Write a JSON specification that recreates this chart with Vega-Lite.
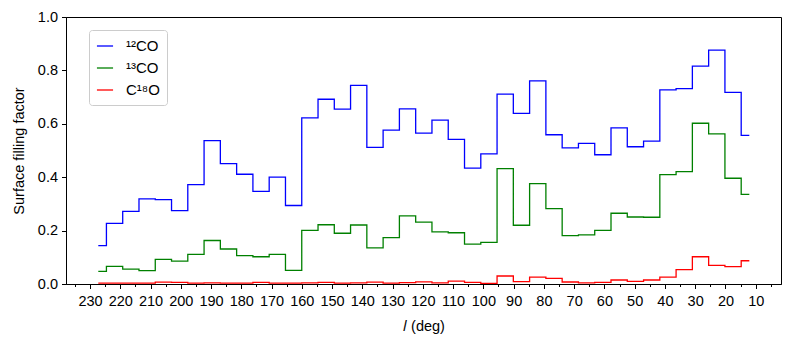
{
  "$schema": "https://vega.github.io/schema/vega-lite/v6.json",
  "width": 715,
  "height": 267,
  "autosize": {"type": "none"},
  "padding": {"left": 66, "top": 17, "right": 12, "bottom": 59},
  "config": {
    "font": "Liberation Sans",
    "view": {"stroke": "black", "strokeWidth": 1},
    "axis": {
      "labelFontSize": 14.5, "titleFontSize": 14.5, "labelColor": "black", "titleColor": "black",
      "domainColor": "black", "tickColor": "black", "titleFontWeight": "normal", "grid": false,
      "labelFont": "Liberation Sans", "titleFont": "Liberation Sans"
    },
    "legend": {"labelFont": "Liberation Sans"}
  },
  "data": {"values": [
    {"l": 227.26, "v": 0.144, "s": "¹²CO"}, {"l": 221.88, "v": 0.227, "s": "¹²CO"}, {"l": 216.50, "v": 0.272, "s": "¹²CO"}, {"l": 211.12, "v": 0.319, "s": "¹²CO"},
    {"l": 205.74, "v": 0.316, "s": "¹²CO"}, {"l": 200.37, "v": 0.275, "s": "¹²CO"}, {"l": 194.99, "v": 0.372, "s": "¹²CO"}, {"l": 189.61, "v": 0.537, "s": "¹²CO"},
    {"l": 184.23, "v": 0.451, "s": "¹²CO"}, {"l": 178.85, "v": 0.411, "s": "¹²CO"}, {"l": 173.47, "v": 0.347, "s": "¹²CO"}, {"l": 168.09, "v": 0.400, "s": "¹²CO"},
    {"l": 162.71, "v": 0.294, "s": "¹²CO"}, {"l": 157.33, "v": 0.622, "s": "¹²CO"}, {"l": 151.95, "v": 0.692, "s": "¹²CO"}, {"l": 146.58, "v": 0.655, "s": "¹²CO"},
    {"l": 141.20, "v": 0.744, "s": "¹²CO"}, {"l": 135.82, "v": 0.512, "s": "¹²CO"}, {"l": 130.44, "v": 0.576, "s": "¹²CO"}, {"l": 125.06, "v": 0.656, "s": "¹²CO"},
    {"l": 119.68, "v": 0.565, "s": "¹²CO"}, {"l": 114.30, "v": 0.614, "s": "¹²CO"}, {"l": 108.92, "v": 0.542, "s": "¹²CO"}, {"l": 103.54, "v": 0.434, "s": "¹²CO"},
    {"l": 98.16, "v": 0.487, "s": "¹²CO"}, {"l": 92.79, "v": 0.711, "s": "¹²CO"}, {"l": 87.41, "v": 0.639, "s": "¹²CO"}, {"l": 82.03, "v": 0.761, "s": "¹²CO"},
    {"l": 76.65, "v": 0.559, "s": "¹²CO"}, {"l": 71.27, "v": 0.510, "s": "¹²CO"}, {"l": 65.89, "v": 0.527, "s": "¹²CO"}, {"l": 60.51, "v": 0.484, "s": "¹²CO"},
    {"l": 55.13, "v": 0.585, "s": "¹²CO"}, {"l": 49.75, "v": 0.514, "s": "¹²CO"}, {"l": 44.37, "v": 0.535, "s": "¹²CO"}, {"l": 39.00, "v": 0.727, "s": "¹²CO"},
    {"l": 33.62, "v": 0.732, "s": "¹²CO"}, {"l": 28.24, "v": 0.816, "s": "¹²CO"}, {"l": 22.86, "v": 0.876, "s": "¹²CO"}, {"l": 17.48, "v": 0.718, "s": "¹²CO"},
    {"l": 12.11, "v": 0.557, "s": "¹²CO"},

    {"l": 227.26, "v": 0.047, "s": "¹³CO"}, {"l": 221.88, "v": 0.066, "s": "¹³CO"}, {"l": 216.50, "v": 0.056, "s": "¹³CO"}, {"l": 211.12, "v": 0.050, "s": "¹³CO"},
    {"l": 205.74, "v": 0.092, "s": "¹³CO"}, {"l": 200.37, "v": 0.086, "s": "¹³CO"}, {"l": 194.99, "v": 0.111, "s": "¹³CO"}, {"l": 189.61, "v": 0.163, "s": "¹³CO"},
    {"l": 184.23, "v": 0.131, "s": "¹³CO"}, {"l": 178.85, "v": 0.106, "s": "¹³CO"}, {"l": 173.47, "v": 0.102, "s": "¹³CO"}, {"l": 168.09, "v": 0.111, "s": "¹³CO"},
    {"l": 162.71, "v": 0.051, "s": "¹³CO"}, {"l": 157.33, "v": 0.201, "s": "¹³CO"}, {"l": 151.95, "v": 0.222, "s": "¹³CO"}, {"l": 146.58, "v": 0.190, "s": "¹³CO"},
    {"l": 141.20, "v": 0.221, "s": "¹³CO"}, {"l": 135.82, "v": 0.135, "s": "¹³CO"}, {"l": 130.44, "v": 0.174, "s": "¹³CO"}, {"l": 125.06, "v": 0.255, "s": "¹³CO"},
    {"l": 119.68, "v": 0.232, "s": "¹³CO"}, {"l": 114.30, "v": 0.195, "s": "¹³CO"}, {"l": 108.92, "v": 0.192, "s": "¹³CO"}, {"l": 103.54, "v": 0.149, "s": "¹³CO"},
    {"l": 98.16, "v": 0.156, "s": "¹³CO"}, {"l": 92.79, "v": 0.432, "s": "¹³CO"}, {"l": 87.41, "v": 0.220, "s": "¹³CO"}, {"l": 82.03, "v": 0.376, "s": "¹³CO"},
    {"l": 76.65, "v": 0.282, "s": "¹³CO"}, {"l": 71.27, "v": 0.181, "s": "¹³CO"}, {"l": 65.89, "v": 0.184, "s": "¹³CO"}, {"l": 60.51, "v": 0.201, "s": "¹³CO"},
    {"l": 55.13, "v": 0.265, "s": "¹³CO"}, {"l": 49.75, "v": 0.251, "s": "¹³CO"}, {"l": 44.37, "v": 0.250, "s": "¹³CO"}, {"l": 39.00, "v": 0.410, "s": "¹³CO"},
    {"l": 33.62, "v": 0.421, "s": "¹³CO"}, {"l": 28.24, "v": 0.602, "s": "¹³CO"}, {"l": 22.86, "v": 0.562, "s": "¹³CO"}, {"l": 17.48, "v": 0.396, "s": "¹³CO"},
    {"l": 12.11, "v": 0.336, "s": "¹³CO"},

    {"l": 227.26, "v": 0.003, "s": "C¹⁸O"}, {"l": 221.88, "v": 0.003, "s": "C¹⁸O"}, {"l": 216.50, "v": 0.003, "s": "C¹⁸O"}, {"l": 211.12, "v": 0.003, "s": "C¹⁸O"},
    {"l": 205.74, "v": 0.007, "s": "C¹⁸O"}, {"l": 200.37, "v": 0.006, "s": "C¹⁸O"}, {"l": 194.99, "v": 0.003, "s": "C¹⁸O"}, {"l": 189.61, "v": 0.004, "s": "C¹⁸O"},
    {"l": 184.23, "v": 0.003, "s": "C¹⁸O"}, {"l": 178.85, "v": 0.003, "s": "C¹⁸O"}, {"l": 173.47, "v": 0.006, "s": "C¹⁸O"}, {"l": 168.09, "v": 0.003, "s": "C¹⁸O"},
    {"l": 162.71, "v": 0.003, "s": "C¹⁸O"}, {"l": 157.33, "v": 0.004, "s": "C¹⁸O"}, {"l": 151.95, "v": 0.006, "s": "C¹⁸O"}, {"l": 146.58, "v": 0.003, "s": "C¹⁸O"},
    {"l": 141.20, "v": 0.004, "s": "C¹⁸O"}, {"l": 135.82, "v": 0.007, "s": "C¹⁸O"}, {"l": 130.44, "v": 0.003, "s": "C¹⁸O"}, {"l": 125.06, "v": 0.005, "s": "C¹⁸O"},
    {"l": 119.68, "v": 0.008, "s": "C¹⁸O"}, {"l": 114.30, "v": 0.004, "s": "C¹⁸O"}, {"l": 108.92, "v": 0.011, "s": "C¹⁸O"}, {"l": 103.54, "v": 0.006, "s": "C¹⁸O"},
    {"l": 98.16, "v": 0.002, "s": "C¹⁸O"}, {"l": 92.79, "v": 0.030, "s": "C¹⁸O"}, {"l": 87.41, "v": 0.009, "s": "C¹⁸O"}, {"l": 82.03, "v": 0.026, "s": "C¹⁸O"},
    {"l": 76.65, "v": 0.021, "s": "C¹⁸O"}, {"l": 71.27, "v": 0.0075, "s": "C¹⁸O"}, {"l": 65.89, "v": 0.004, "s": "C¹⁸O"}, {"l": 60.51, "v": 0.006, "s": "C¹⁸O"},
    {"l": 55.13, "v": 0.015, "s": "C¹⁸O"}, {"l": 49.75, "v": 0.010, "s": "C¹⁸O"}, {"l": 44.37, "v": 0.015, "s": "C¹⁸O"}, {"l": 39.00, "v": 0.026, "s": "C¹⁸O"},
    {"l": 33.62, "v": 0.054, "s": "C¹⁸O"}, {"l": 28.24, "v": 0.102, "s": "C¹⁸O"}, {"l": 22.86, "v": 0.070, "s": "C¹⁸O"}, {"l": 17.48, "v": 0.065, "s": "C¹⁸O"},
    {"l": 12.11, "v": 0.087, "s": "C¹⁸O"}
  ]},
  "mark": {"type": "line", "interpolate": "step", "strokeWidth": 1.3, "clip": true},
  "encoding": {
    "x": {
      "field": "l", "type": "quantitative",
      "scale": {"domain": [1.64, 237.93], "reverse": true, "nice": false, "zero": false},
      "axis": {
        "title": "𝑙 (deg)",
        "values": [235, 230, 225, 220, 215, 210, 205, 200, 195, 190, 185, 180, 175, 170, 165, 160, 155, 150, 145, 140, 135, 130, 125, 120, 115, 110, 105, 100, 95, 90, 85, 80, 75, 70, 65, 60, 55, 50, 45, 40, 35, 30, 25, 20, 15, 10, 5],
        "labelExpr": "datum.value % 10 === 0 ? datum.label : ''",
        "labelOverlap": false,
        "tickSize": {"condition": {"test": "datum.value % 10 === 0", "value": 4.5}, "value": 2.5},
        "labelPadding": 6,
        "titlePadding": 11
      }
    },
    "y": {
      "field": "v", "type": "quantitative",
      "scale": {"domain": [0, 1], "nice": false},
      "axis": {
        "title": "Surface filling factor",
        "values": [0, 0.2, 0.4, 0.6, 0.8, 1.0],
        "format": ".1f",
        "tickSize": 4.5,
        "labelPadding": 4,
        "titlePadding": 11
      }
    },
    "color": {
      "field": "s", "type": "nominal",
      "scale": {"domain": ["¹²CO", "¹³CO", "C¹⁸O"], "range": ["#0000ff", "#008000", "#ff0000"]},
      "legend": {
        "title": null,
        "orient": "none",
        "legendX": 23,
        "legendY": 13,
        "symbolType": "stroke",
        "symbolSize": 260,
        "symbolStrokeWidth": 1.3,
        "labelFontSize": 15,
        "labelColor": "black",
        "labelOffset": 12,
        "rowPadding": 5,
        "padding": 7,
        "strokeColor": "#cccccc",
        "fillColor": "white",
        "cornerRadius": 3
      }
    }
  }
}
